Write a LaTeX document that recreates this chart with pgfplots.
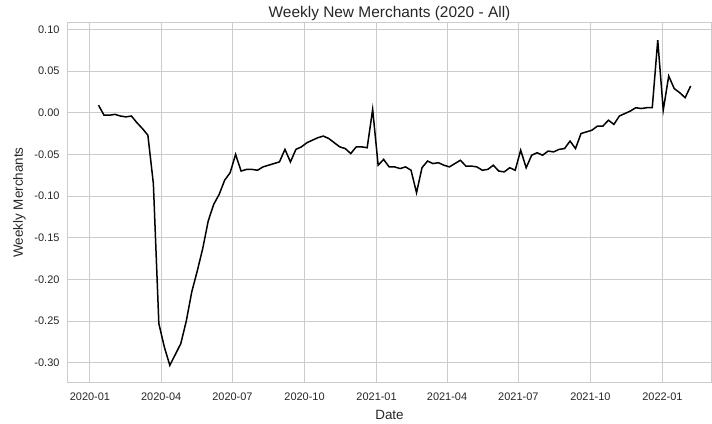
\documentclass[border=0pt]{standalone}
\usepackage{pgfplots}
\pgfplotsset{compat=1.18}
\usepackage{pgfplotstable}
\usepackage{fontspec}
\setmainfont{Liberation Sans}
\definecolor{gridc}{HTML}{CCCCCC}
\definecolor{txt}{HTML}{262626}
\pgfplotstableread{
day val
11 0.009
18 -0.003
25 -0.003
32 -0.002
39 -0.004
46 -0.005
53 -0.004
60 -0.012
67 -0.019
74 -0.027
81 -0.085
88 -0.253
95 -0.281
102 -0.303
109 -0.290
116 -0.277
123 -0.250
130 -0.215
137 -0.190
144 -0.163
151 -0.130
158 -0.110
165 -0.098
172 -0.081
179 -0.072
186 -0.050
193 -0.070
200 -0.068
207 -0.068
214 -0.069
221 -0.065
228 -0.063
235 -0.061
242 -0.059
249 -0.044
256 -0.059
263 -0.044
270 -0.041
277 -0.036
284 -0.033
291 -0.030
298 -0.028
305 -0.031
312 -0.036
319 -0.041
326 -0.043
333 -0.049
340 -0.041
347 -0.041
354 -0.042
361 0.004
368 -0.063
375 -0.056
382 -0.065
389 -0.065
396 -0.067
403 -0.065
410 -0.069
417 -0.096
424 -0.066
431 -0.058
438 -0.061
445 -0.060
452 -0.063
459 -0.065
466 -0.061
473 -0.057
480 -0.064
487 -0.064
494 -0.065
501 -0.069
508 -0.068
515 -0.063
522 -0.070
529 -0.071
536 -0.066
543 -0.069
550 -0.045
557 -0.066
564 -0.051
571 -0.048
578 -0.051
585 -0.046
592 -0.047
599 -0.044
606 -0.043
613 -0.034
620 -0.043
627 -0.025
634 -0.023
641 -0.021
648 -0.016
655 -0.016
662 -0.009
669 -0.014
676 -0.004
683 -0.001
690 0.002
697 0.006
704 0.005
711 0.006
718 0.006
725 0.087
732 0.003
739 0.044
746 0.029
753 0.024
760 0.018
767 0.032
}\datatable
\begin{document}
\begin{tikzpicture}
\begin{axis}[
  scale only axis,
  width=643bp, height=359bp,
  xmin=-28, xmax=793,
  ymin=-0.323, ymax=0.1076,
  axis line style={gridc, line width=1bp},
  grid=major,
  major grid style={gridc, line width=1bp},
  tick style={draw=none},
  xtick={0,91,182,274,366,456,547,639,731},
  xticklabels={2020-01,2020-04,2020-07,2020-10,2021-01,2021-04,2021-07,2021-10,2022-01},
  ytick={0.10,0.05,0,-0.05,-0.10,-0.15,-0.20,-0.25,-0.30},
  yticklabel style={/pgf/number format/fixed, /pgf/number format/fixed zerofill, /pgf/number format/precision=2, /pgf/number format/assume math mode=true, xshift=-5bp},
  ticklabel style={font=\fontsize{11}{13}\selectfont, text=txt},
  xticklabel style={yshift=-7bp},
  title={Weekly New Merchants (2020 - All)},
  title style={font=\fontsize{15.5}{18}\selectfont, text=txt, yshift=-7bp},
  xlabel={Date},
  ylabel={Weekly Merchants},
  label style={font=\fontsize{13.5}{16}\selectfont, text=txt},
  xlabel style={yshift=-3bp},
  ylabel style={yshift=2bp},
]
\addplot[black, line width=1.5bp, mark=none] table[x=day, y=val] {\datatable};
\end{axis}
\pgfresetboundingbox
\path[use as bounding box] (-68bp,-42bp) rectangle (644bp,382bp);
\end{tikzpicture}
\end{document}
